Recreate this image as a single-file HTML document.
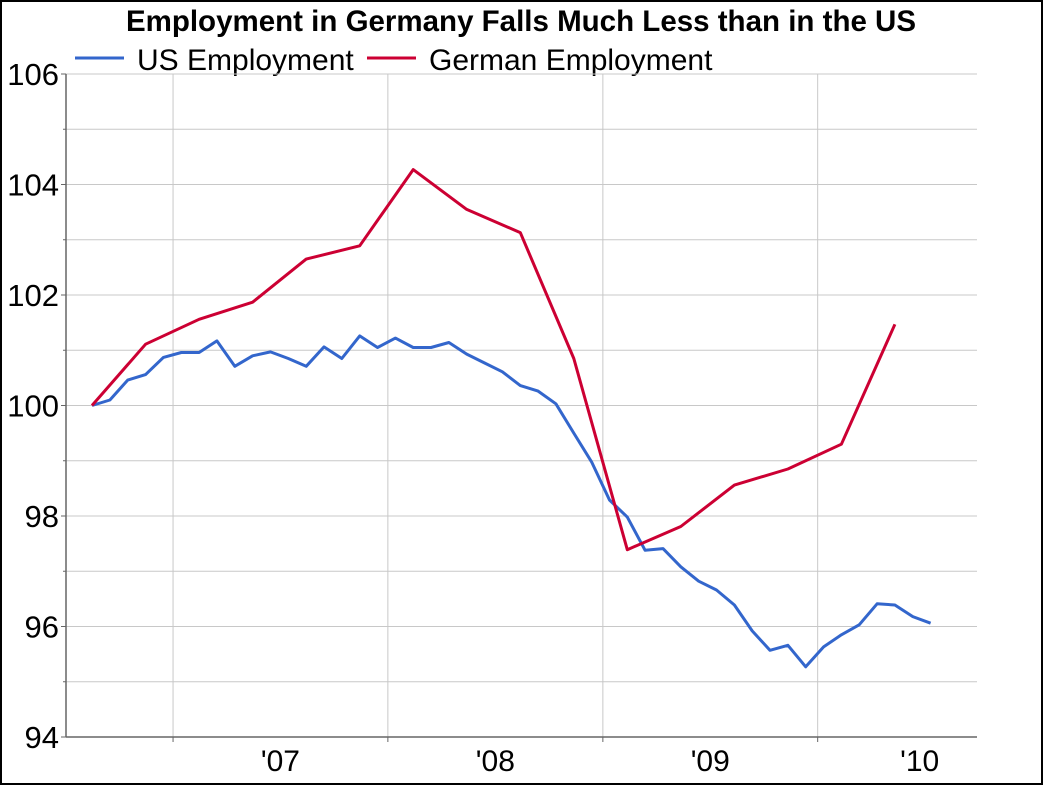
<!DOCTYPE html>
<html><head><meta charset="utf-8"><style>
html,body{margin:0;padding:0;background:#fff}
svg{display:block}
</style></head><body>
<svg id="chart" width="1043" height="785" xmlns="http://www.w3.org/2000/svg" font-family="Liberation Sans, Arial, sans-serif">
<rect x="1" y="1" width="1041" height="783" fill="#fff" stroke="#000" stroke-width="2"/>
<text x="521" y="31" text-anchor="middle" font-size="29.5" font-weight="bold">Employment in Germany Falls Much Less than in the US</text>
<g>
<g>
<line x1="75" y1="58" x2="124" y2="58" stroke="#3366cc" stroke-width="3"/>
<text x="137" y="70" font-size="30">US Employment</text></g>
<g>
<line x1="367" y1="58" x2="416" y2="58" stroke="#cc0033" stroke-width="3"/>
<text x="429" y="70" font-size="30">German Employment</text></g>
</g>
<g id="grid"></g>
<g id="axes"></g>
<g id="series"></g>
</svg>
<script>
const usValues = [100.0,100.1,100.46,100.56,100.87,100.96,100.96,101.17,100.71,100.9,100.97,100.85,100.71,101.06,100.85,101.26,101.05,101.22,101.05,101.05,101.14,100.93,100.77,100.61,100.36,100.26,100.03,99.5,98.98,98.29,97.98,97.38,97.41,97.08,96.82,96.66,96.39,95.92,95.57,95.66,95.27,95.63,95.85,96.03,96.41,96.39,96.18,96.06];
const deValues = [100.0,101.11,101.56,101.87,102.65,102.89,104.27,103.55,103.13,100.85,97.39,97.81,98.56,98.85,99.30,101.47];
const yTicks = [94,96,98,100,102,104,106];
const yearLabels = ["'07","'08","'09","'10"];
const yearStarts = [4.54,16.58,28.63,40.67];

const NS="http://www.w3.org/2000/svg";
const L=66,R=977,T=74,B=737;
const xMin=-1.46,xMax=49.6,yMin=94,yMax=106;
function xs(i){return L+(i-xMin)/(xMax-xMin)*(R-L);}
function ys(v){return B-(v-yMin)/(yMax-yMin)*(B-T);}
function mk(tag,attrs,parent){const e=document.createElementNS(NS,tag);for(const k in attrs)e.setAttribute(k,attrs[k]);parent.appendChild(e);return e;}
const grid=document.getElementById('grid'),axes=document.getElementById('axes'),series=document.getElementById('series');

for(let v=yMin+1;v<yMax+0.01;v+=1){
  const y=ys(v);
  const g=mk('line',{x1:L,x2:R,y1:y,y2:y,stroke:'#c8c8c8','stroke-width':1},grid);
  
  
}
for(let v=yMin;v<yMax+0.01;v+=1){
  const y=ys(v);
  const major=yTicks.includes(Math.round(v));
  const t=mk('line',{x1:major?L-5:L-3,x2:L,y1:y,y2:y,stroke:'#666','stroke-width':1},axes);
  
  
}
yTicks.forEach(v=>{
  const t=mk('text',{x:L-7,y:ys(v)+11,'text-anchor':'end','font-size':31},axes);
  t.textContent=v;
  
  
});
yearStarts.forEach((s,k)=>{
  const x=xs(s);
  const g=mk('line',{x1:x,x2:x,y1:T,y2:B,stroke:'#c8c8c8','stroke-width':1},grid);
  
  
  const t=mk('line',{x1:x,x2:x,y1:B,y2:B+5,stroke:'#666','stroke-width':1},axes);
  
  
  const lx=k<yearStarts.length-1?(x+xs(yearStarts[k+1]))/2:x+102;
  const lab=mk('text',{x:lx,y:771,'text-anchor':'middle','font-size':30},axes);
  lab.textContent=yearLabels[k];
  
  
});
const ya=mk('line',{x1:L,x2:L,y1:T,y2:B,stroke:'#666','stroke-width':1.5},axes);


const xa=mk('line',{x1:L,x2:R,y1:B,y2:B,stroke:'#666','stroke-width':1.5},axes);



const usPts=usValues.map((v,i)=>xs(i).toFixed(1)+','+ys(v).toFixed(1)).join(' ');
const us=mk('polyline',{points:usPts,fill:'none',stroke:'#3366cc','stroke-width':3,'stroke-linejoin':'round'},series);


const dePts=deValues.map((v,i)=>xs(i*3).toFixed(1)+','+ys(v).toFixed(1)).join(' ');
const de=mk('polyline',{points:dePts,fill:'none',stroke:'#cc0033','stroke-width':3,'stroke-linejoin':'round'},series);


</script>
</body></html>
